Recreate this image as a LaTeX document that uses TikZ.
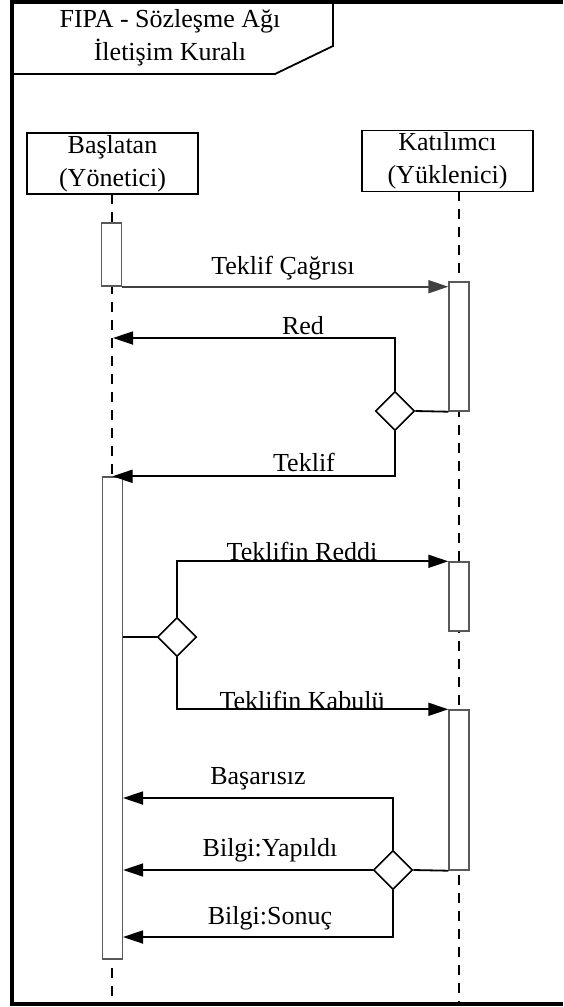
\documentclass[tikz,border=0pt]{standalone}
\usepackage{fontspec}
\setmainfont{Liberation Serif}
\usepackage{tikz}
\usetikzlibrary{arrows.meta,shapes.geometric}

\begin{document}
\begin{tikzpicture}[x=1pt,y=-1pt,
		font=\fontsize{26}{33}\selectfont,
		>={Triangle[length=20pt,width=13pt]},
		party/.style={draw,line width=1.6pt,minimum width=171pt,minimum height=61pt,align=center,inner sep=0pt},
		actbox/.style={draw=black!65,fill=white,line width=1.4pt,minimum width=20pt,inner sep=0pt},
		choice/.style={diamond,draw,fill=white,line width=1.6pt,minimum size=39pt,inner sep=0pt},
		lifeline/.style={line width=1.8pt,dash pattern=on 10pt off 8pt},
		msg/.style={line width=1.8pt}]
		\useasboundingbox (0,0) rectangle (563,1007);

		% frame and title tab
		\draw[line width=4pt] (563,2) -- (12,2) -- (12,1004) -- (563,1004);
		\draw[line width=1.8pt] (12,74) -- (275,74) -- (333,46) -- (333,2);
		\node (title) at (170,38) [align=center] {FIPA - Sözleşme Ağı\\İletişim Kuralı};

		% participants and lifelines
		\node[party] (ini) at (112.5,163.5) {Başlatan\\(Yönetici)};
		\node[party] (kat) at (447.5,161) {Katılımcı\\(Yüklenici)};
		\coordinate (initop) at (112,194);
		\coordinate (inibot) at (112,1004);
		\coordinate (kattop) at (459,191);
		\coordinate (katbot) at (459,1004);
		\draw[lifeline] (initop) -- (inibot);
		\draw[lifeline] (kattop) -- (katbot);

		\begin{scope}[every node/.style={actbox}]
		    \node[minimum height=63pt] (a1) at (111.5,254.5) {};
		    \node[minimum height=482pt] (a2) at (112.5,718) {};
		    \node[minimum height=129pt] (b1) at (459,346.5) {};
		    \node[minimum height=69pt] (b2) at (459,596.5) {};
		    \node[minimum height=160pt] (b3) at (459,790) {};
		\end{scope}

		\begin{scope}[every node/.style={choice}]
		    \node (d1) at (395,411) {};
		    \node (d2) at (177,637) {};
		    \node (d3) at (393,870) {};
		\end{scope}

		\coordinate (redtip) at (113,338);
		\coordinate (bastip) at (123,798);
		\coordinate (sontip) at (123,937);

		% messages
		\begin{scope}[every path/.style={msg}]
		    \draw[->,draw=black!75] (a1.south east) -- (a1.south east -| b1.west);
		    \draw (b1.south west) -- (d1.east);
		    \draw[->] (d1.north) |- (redtip);
		    \draw[->] (d1.south) |- (a2.north);
		    \draw (d2.west) -- (d2.west -| a2.east);
		    \draw[->] (d2.north) |- (b2.north west);
		    \draw[->] (d2.south) |- (b3.north west);
		    \draw (b3.south west) -- (d3.east);
		    \draw[->] (d3.north) |- (bastip);
		    \draw[->] (d3.west) -- (d3.west -| a2.east);
		    \draw[->] (d3.south) |- (sontip);
		\end{scope}

		% labels
		\node (lcagri) at (283,268) {Teklif Çağrısı};
		\node (lred) at (303,326) {Red};
		\node (lteklif) at (304,462) {Teklif};
		\node (lreddi) at (302,551) {Teklifin Reddi};
		\node (lkabul) at (302,700) {Teklifin Kabulü};
		\node (lbasar) at (258,779) {Başarısız};
		\node (lyapildi) at (270,850) {Bilgi:Yapıldı};
		\node (lsonuc) at (270,918) {Bilgi:Sonuç};
\end{tikzpicture}
\end{document}
